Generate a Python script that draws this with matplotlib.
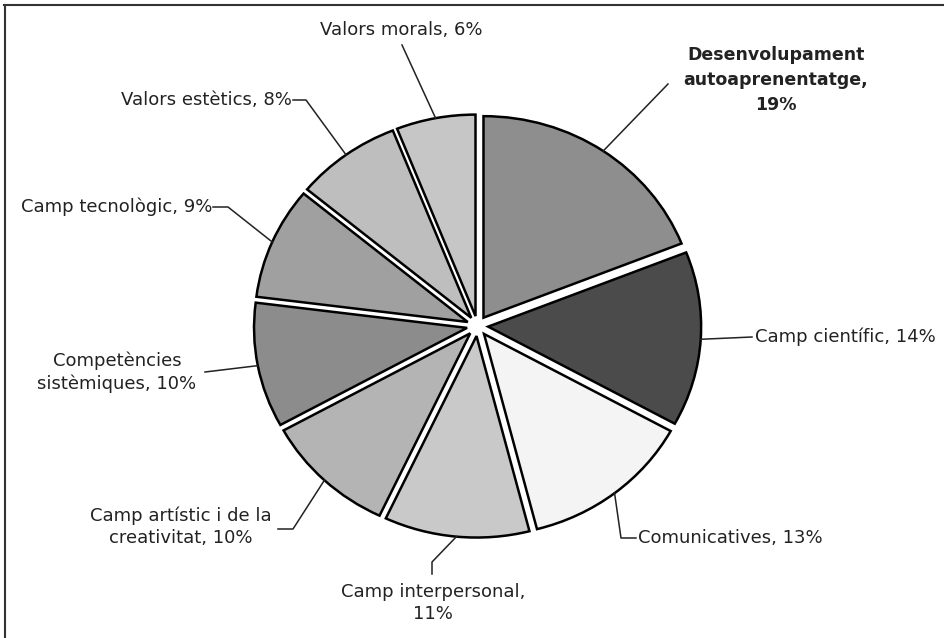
import numpy as np
import matplotlib
matplotlib.use("Agg")
import matplotlib.pyplot as plt

plt.rcParams["font.family"] = ["DejaVu Sans"]

labels = [
    "Desenvolupament\nautoaprenentatge,\n19%",
    "Camp científic, 14%",
    "Comunicatives, 13%",
    "Camp interpersonal,\n11%",
    "Camp artístic i de la\ncreativitat, 10%",
    "Competències\nsistèmiques, 10%",
    "Camp tecnològic, 9%",
    "Valors estètics, 8%",
    "Valors morals, 6%",
]
values = [19, 14, 13, 11, 10, 10, 9, 8, 6]
colors = ["#8e8e8e", "#4b4b4b", "#f4f4f4", "#c9c9c9", "#b4b4b4",
          "#8c8c8c", "#a0a0a0", "#bebebe", "#c6c6c6"]

# pie geometry in image pixels (picture is a bit wider than tall)
W, H = 944, 638
CX, CY = 477.5, 326.0
RX, RY = 213.0, 201.5
EXPLODE = 0.05


def to_data(px, py):
    return (px - CX) / RX, (CY - py) / RY


fig = plt.figure(figsize=(W / 100, H / 100), dpi=100)
ax = fig.add_axes([0, 0, 1, 1])
wedges, _ = ax.pie(values, colors=colors, startangle=90, counterclock=False,
                   explode=[EXPLODE] * len(values),
                   wedgeprops=dict(edgecolor="black", linewidth=1.8))
ax.set_aspect("auto")
x0, y0 = to_data(0, H)
x1, y1 = to_data(W, 0)
ax.set_xlim(x0, x1)
ax.set_ylim(y0, y1)
ax.axis("off")

# text placement (pixels): position, alignment, leader points after the anchor
layout = [
    ((776, 80), "center", [(668, 84)]),
    ((755, 337), "left", [(752, 337)]),
    ((638, 538), "left", [(621, 538), (636, 538)]),
    ((433, 603), "center", [(432, 562), (432, 574)]),
    ((181, 527), "center", [(293, 529), (278, 529)]),
    ((117, 372), "center", [(205, 372)]),
    ((212, 207), "right", [(228, 207), (213, 207)]),
    ((292, 100), "right", [(306, 100), (293, 100)]),
    ((401, 30), "center", [(402, 45)]),
]

for i, (w, lab) in enumerate(zip(wedges, labels)):
    mid = np.deg2rad((w.theta1 + w.theta2) / 2)
    ax_x = w.center[0] + w.r * np.cos(mid)
    ax_y = w.center[1] + w.r * np.sin(mid)
    (tx, ty), ha, pts = layout[i]
    xs = [ax_x] + [to_data(p[0], p[1])[0] for p in pts]
    ys = [ax_y] + [to_data(p[0], p[1])[1] for p in pts]
    ax.plot(xs, ys, color="#222222", lw=1.1)
    dx, dy = to_data(tx, ty)
    ax.text(dx, dy, lab, ha=ha, va="center", multialignment="center",
            fontsize=12.5 if i == 0 else 13, color="#222222",
            linespacing=1.5 if i == 0 else 1.3,
            fontweight="bold" if i == 0 else "normal")

# frame on the left and top
ax.plot(*zip(to_data(4.5, 5), to_data(4.5, H)), color="#333333", lw=1.5)
ax.plot(*zip(to_data(4, 5), to_data(W, 5)), color="#333333", lw=1.5)

fig.savefig("out.png", dpi=100)
